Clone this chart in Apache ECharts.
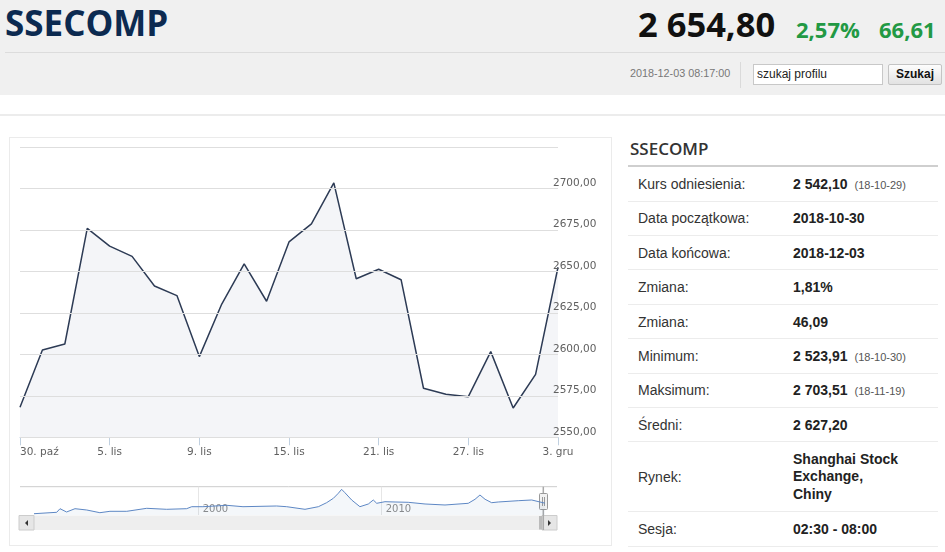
<!DOCTYPE html>
<html lang="pl">
<head>
<meta charset="utf-8">
<title>SSECOMP</title>
<script src="https://cdn.jsdelivr.net/npm/echarts@6.0.0/dist/echarts.min.js"></script>
<style>
  html, body { margin: 0; padding: 0; width: 945px; height: 552px; overflow: hidden; background: #fff;
    font-family: "Liberation Sans", Arial, sans-serif; }
  .abs { position: absolute; white-space: nowrap; }
  .top { left: 0; top: 0; width: 945px; height: 95px; background: #f0f0f0; }
  .ticker { left: 5px; top: -1px; font: 700 35px/normal "Open Sans", sans-serif; color: #0c2a50; }
  .sep { left: 5px; top: 52px; width: 940px; height: 1px; background: #dcdcdc; }
  .price { left: 638px; top: 0px; font: 700 34.5px/normal "Open Sans", sans-serif; color: #111; }
  .chg { top: 13.8px; font: 700 22px/normal "Open Sans", sans-serif; color: #229944; }
  .stamp { left: 630px; top: 67.3px; font: 10.8px/normal "Liberation Sans", Arial, sans-serif; color: #777; }
  .vsep { left: 740px; top: 62px; width: 1px; height: 26px; background: #dadada; }
  .search { left: 753px; top: 64px; width: 130px; height: 21px; box-sizing: border-box; border: 1px solid #c8c8c8;
    background: #fff; font-size: 12px; line-height: 19px; padding-left: 3px; color: #222; }
  .btn { left: 888px; top: 64px; width: 54px; height: 21px; box-sizing: border-box; border: 1px solid #c4c4c4;
    border-radius: 2px; background: linear-gradient(#fdfdfd, #e2e2e2); font-weight: 700; font-size: 12px;
    line-height: 19px; text-align: center; color: #111; }
  .rule { left: 0; top: 114px; width: 945px; height: 2px; background: #ececec; }
  .box { left: 9px; top: 137px; width: 603px; height: 409px; box-sizing: border-box; border: 1px solid #ebebeb; }
  #chart { position: absolute; left: 0; top: 0; width: 601px; height: 407px; }
  .head { left: 630px; top: 136.8px; font: 600 17px/normal "Open Sans", sans-serif; color: #333; }
  .hline { left: 628px; top: 165px; width: 310px; height: 2px; background: #cfcfcf; }
  .rows { left: 628px; top: 167.3px; width: 310px; }
  .row { display: flex; align-items: center; height: 33.4px; border-bottom: 1px solid #ececec; font-size: 14px; }
  .row .l { width: 155px; padding-left: 10px; color: #333; }
  .row .v { font-weight: 700; color: #222; }
  .row .v small { font-weight: 400; font-size: 11px; color: #555; margin-left: 7px; }
  .row.tall { height: 69px; }
  .row.tall .v { line-height: 17.4px; }
</style>
</head>
<body>
<div class="abs top"></div>
<div class="abs ticker">SSECOMP</div>
<div class="abs sep"></div>
<div class="abs price">2 654,80</div>
<div class="abs chg" style="left:796px">2,57%</div>
<div class="abs chg" style="left:879px">66,61</div>
<div class="abs stamp">2018-12-03 08:17:00</div>
<div class="abs vsep"></div>
<div class="abs search">szukaj profilu</div>
<div class="abs btn">Szukaj</div>
<div class="abs rule"></div>

<div class="abs box"><div id="chart"></div></div>

<div class="abs head">SSECOMP</div>
<div class="abs hline"></div>
<div class="abs rows">
  <div class="row"><div class="l">Kurs odniesienia:</div><div class="v">2 542,10<small>(18-10-29)</small></div></div>
  <div class="row"><div class="l">Data początkowa:</div><div class="v">2018-10-30</div></div>
  <div class="row"><div class="l">Data końcowa:</div><div class="v">2018-12-03</div></div>
  <div class="row"><div class="l">Zmiana:</div><div class="v">1,81%</div></div>
  <div class="row"><div class="l">Zmiana:</div><div class="v">46,09</div></div>
  <div class="row"><div class="l">Minimum:</div><div class="v">2 523,91<small>(18-10-30)</small></div></div>
  <div class="row"><div class="l">Maksimum:</div><div class="v">2 703,51<small>(18-11-19)</small></div></div>
  <div class="row"><div class="l">Średni:</div><div class="v">2 627,20</div></div>
  <div class="row tall"><div class="l">Rynek:</div><div class="v">Shanghai Stock<br>Exchange,<br>Chiny</div></div>
  <div class="row"><div class="l">Sesja:</div><div class="v">02:30 - 08:00</div></div>
</div>

<script>
// sesje 30.10 - 3.12.2018
const dates = ["30. paź", "31. paź", "1. lis", "2. lis", "5. lis", "6. lis", "7. lis", "8. lis", "9. lis",
  "12. lis", "13. lis", "14. lis", "15. lis", "16. lis", "19. lis", "20. lis", "21. lis", "22. lis",
  "23. lis", "26. lis", "27. lis", "28. lis", "29. lis", "30. lis", "3. gru"];
const closes = [2568.1, 2602.7, 2606.3, 2676.1, 2665.4, 2659.2, 2641.3, 2635.5, 2598.7,
  2630.4, 2654.6, 2632.1, 2667.9, 2678.8, 2703.5, 2645.7, 2651.4, 2645.1,
  2579.6, 2576.0, 2574.5, 2601.7, 2567.7, 2588.0, 2652.6];
const yMin = 2550;
const yMax = 2725;
const yStep = 25;

// nawigator - cala historia indeksu
const navYears = [1991.0, 1992.24, 1992.42, 1992.78, 1993.24, 1993.88, 1994.6, 1995.15, 1996.07, 1997.16,
  1998.25, 1999.34, 1999.62, 2000.23, 2001.53, 2002.42, 2004.26, 2004.81, 2005.81, 2006.54,
  2006.99, 2007.36, 2007.63, 2007.81, 2007.99, 2008.36, 2008.81, 2009.27, 2009.54, 2009.73,
  2010.18, 2010.73, 2011.45, 2012.37, 2013.46, 2014.73, 2015.1, 2015.37, 2015.65, 2016.01,
  2016.37, 2017.46, 2018.2, 2018.65, 2018.92];
const navValues = [170, 500, 1345, 570, 1345, 1040, 405, 735, 735, 1440,
  1205, 1345, 1815, 1815, 2145, 1815, 1980, 1815, 1205, 1815,
  2755, 3790, 4965, 5900, 5105, 3390, 1815, 2450, 3390, 2615,
  2990, 2920, 2850, 2450, 2215, 2615, 3555, 4565, 3555, 2755,
  2920, 3225, 3390, 2920, 2655];
const navStep = 10;

const labelFont = { color: "#606060", fontSize: 10.5, fontFamily: "DejaVu Sans, Verdana, sans-serif" };

const chart = echarts.init(document.getElementById("chart"));

const btn = (x) => ({
  type: "rect", shape: { x: x, y: 377.5, width: 15, height: 14.5 },
  style: { fill: "#e6e6e6", stroke: "#cccccc", lineWidth: 1 }, silent: true
});

chart.setOption({
  animation: false,
  backgroundColor: "#fff",
  grid: [
    { left: 10, top: 9.3, width: 538, height: 290, outerBoundsMode: "none", containLabel: false },
    { left: 5.7, top: 348.7, width: 541.3, height: 28.3, outerBoundsMode: "none", containLabel: false }
  ],
  xAxis: [
    {
      type: "category", gridIndex: 0, data: dates, boundaryGap: false,
      axisLine: { lineStyle: { color: "#c0d0e0" } },
      axisTick: { interval: 3, length: 8, lineStyle: { color: "#c0d0e0" } },
      axisLabel: { interval: 3, margin: 9, alignMinLabel: "left", ...labelFont },
      splitLine: { show: false }
    },
    {
      type: "value", gridIndex: 1, min: 1990, max: 2019.58, interval: navStep,
      axisLine: { show: false }, axisTick: { show: false },
      axisLabel: {
        inside: true, margin: 1, align: "left", padding: [0, 0, 0, 4],
        showMinLabel: false, showMaxLabel: false,
        color: "#8c8c8c", fontSize: 10, fontFamily: "DejaVu Sans, Verdana, sans-serif",
        formatter: (v) => String(v)
      },
      splitLine: { show: true, showMinLine: false, showMaxLine: false, lineStyle: { color: "#e6e6e6" } }
    }
  ],
  yAxis: [
    {
      type: "value", gridIndex: 0, position: "right", min: yMin, max: yMax, interval: yStep, z: 3,
      axisLine: { show: false }, axisTick: { show: false },
      axisLabel: {
        margin: -5, align: "left", verticalAlign: "bottom", ...labelFont,
        formatter: (v) => (v === yMax ? "" : v.toFixed(2).replace(".", ","))
      },
      splitLine: { lineStyle: { color: "#dedede" } }
    },
    {
      type: "value", gridIndex: 1, min: -135, max: 6515,
      axisLine: { show: false }, axisTick: { show: false }, axisLabel: { show: false }, splitLine: { show: false }
    }
  ],
  series: [
    {
      type: "line", xAxisIndex: 0, yAxisIndex: 0, data: closes,
      symbol: "none", silent: true, z: 2,
      lineStyle: { color: "#2d3b55", width: 1.5 },
      areaStyle: { color: "rgba(60,80,130,0.055)", origin: "start", opacity: 1 }
    },
    {
      type: "line", xAxisIndex: 1, yAxisIndex: 1,
      data: navYears.map((y, i) => [y, navValues[i]]),
      symbol: "none", silent: true,
      lineStyle: { color: "#5d87c4", width: 1 },
      areaStyle: { color: "rgba(69,114,167,0.06)", origin: "start", opacity: 1 }
    }
  ],
  graphic: [
    // obrys nawigatora
    { type: "line", shape: { x1: 10, y1: 348.7, x2: 547, y2: 348.7 }, style: { stroke: "#cccccc", lineWidth: 1 }, silent: true },
    // pasek przewijania
    { type: "rect", shape: { x: 9, y: 377.5, width: 538, height: 14.5 }, style: { fill: "#eeeeee" }, silent: true },
    btn(9),
    btn(532),
    { type: "polygon", shape: { points: [[18, 382], [18, 388], [15, 385]] }, style: { fill: "#333" }, silent: true },
    { type: "polygon", shape: { points: [[538, 382], [538, 388], [541, 385]] }, style: { fill: "#333" }, silent: true },
    { type: "rect", shape: { x: 529, y: 378, width: 3, height: 13.5 }, style: { fill: "#bbbbbb" }, silent: true },
    // uchwyt
    { type: "line", shape: { x1: 533.3, y1: 348.7, x2: 533.3, y2: 392 }, style: { stroke: "#aaaaaa", lineWidth: 1.5 }, silent: true },
    { type: "rect", shape: { x: 529.5, y: 355.5, width: 8, height: 16, r: 1 }, style: { fill: "#f2f2f2", stroke: "#999999", lineWidth: 1 }, silent: true },
    { type: "line", shape: { x1: 532.5, y1: 359, x2: 532.5, y2: 368 }, style: { stroke: "#999", lineWidth: 1 }, silent: true },
    { type: "line", shape: { x1: 534.5, y1: 359, x2: 534.5, y2: 368 }, style: { stroke: "#999", lineWidth: 1 }, silent: true }
  ]
});

window.addEventListener("resize", () => chart.resize());
</script>
</body>
</html>
